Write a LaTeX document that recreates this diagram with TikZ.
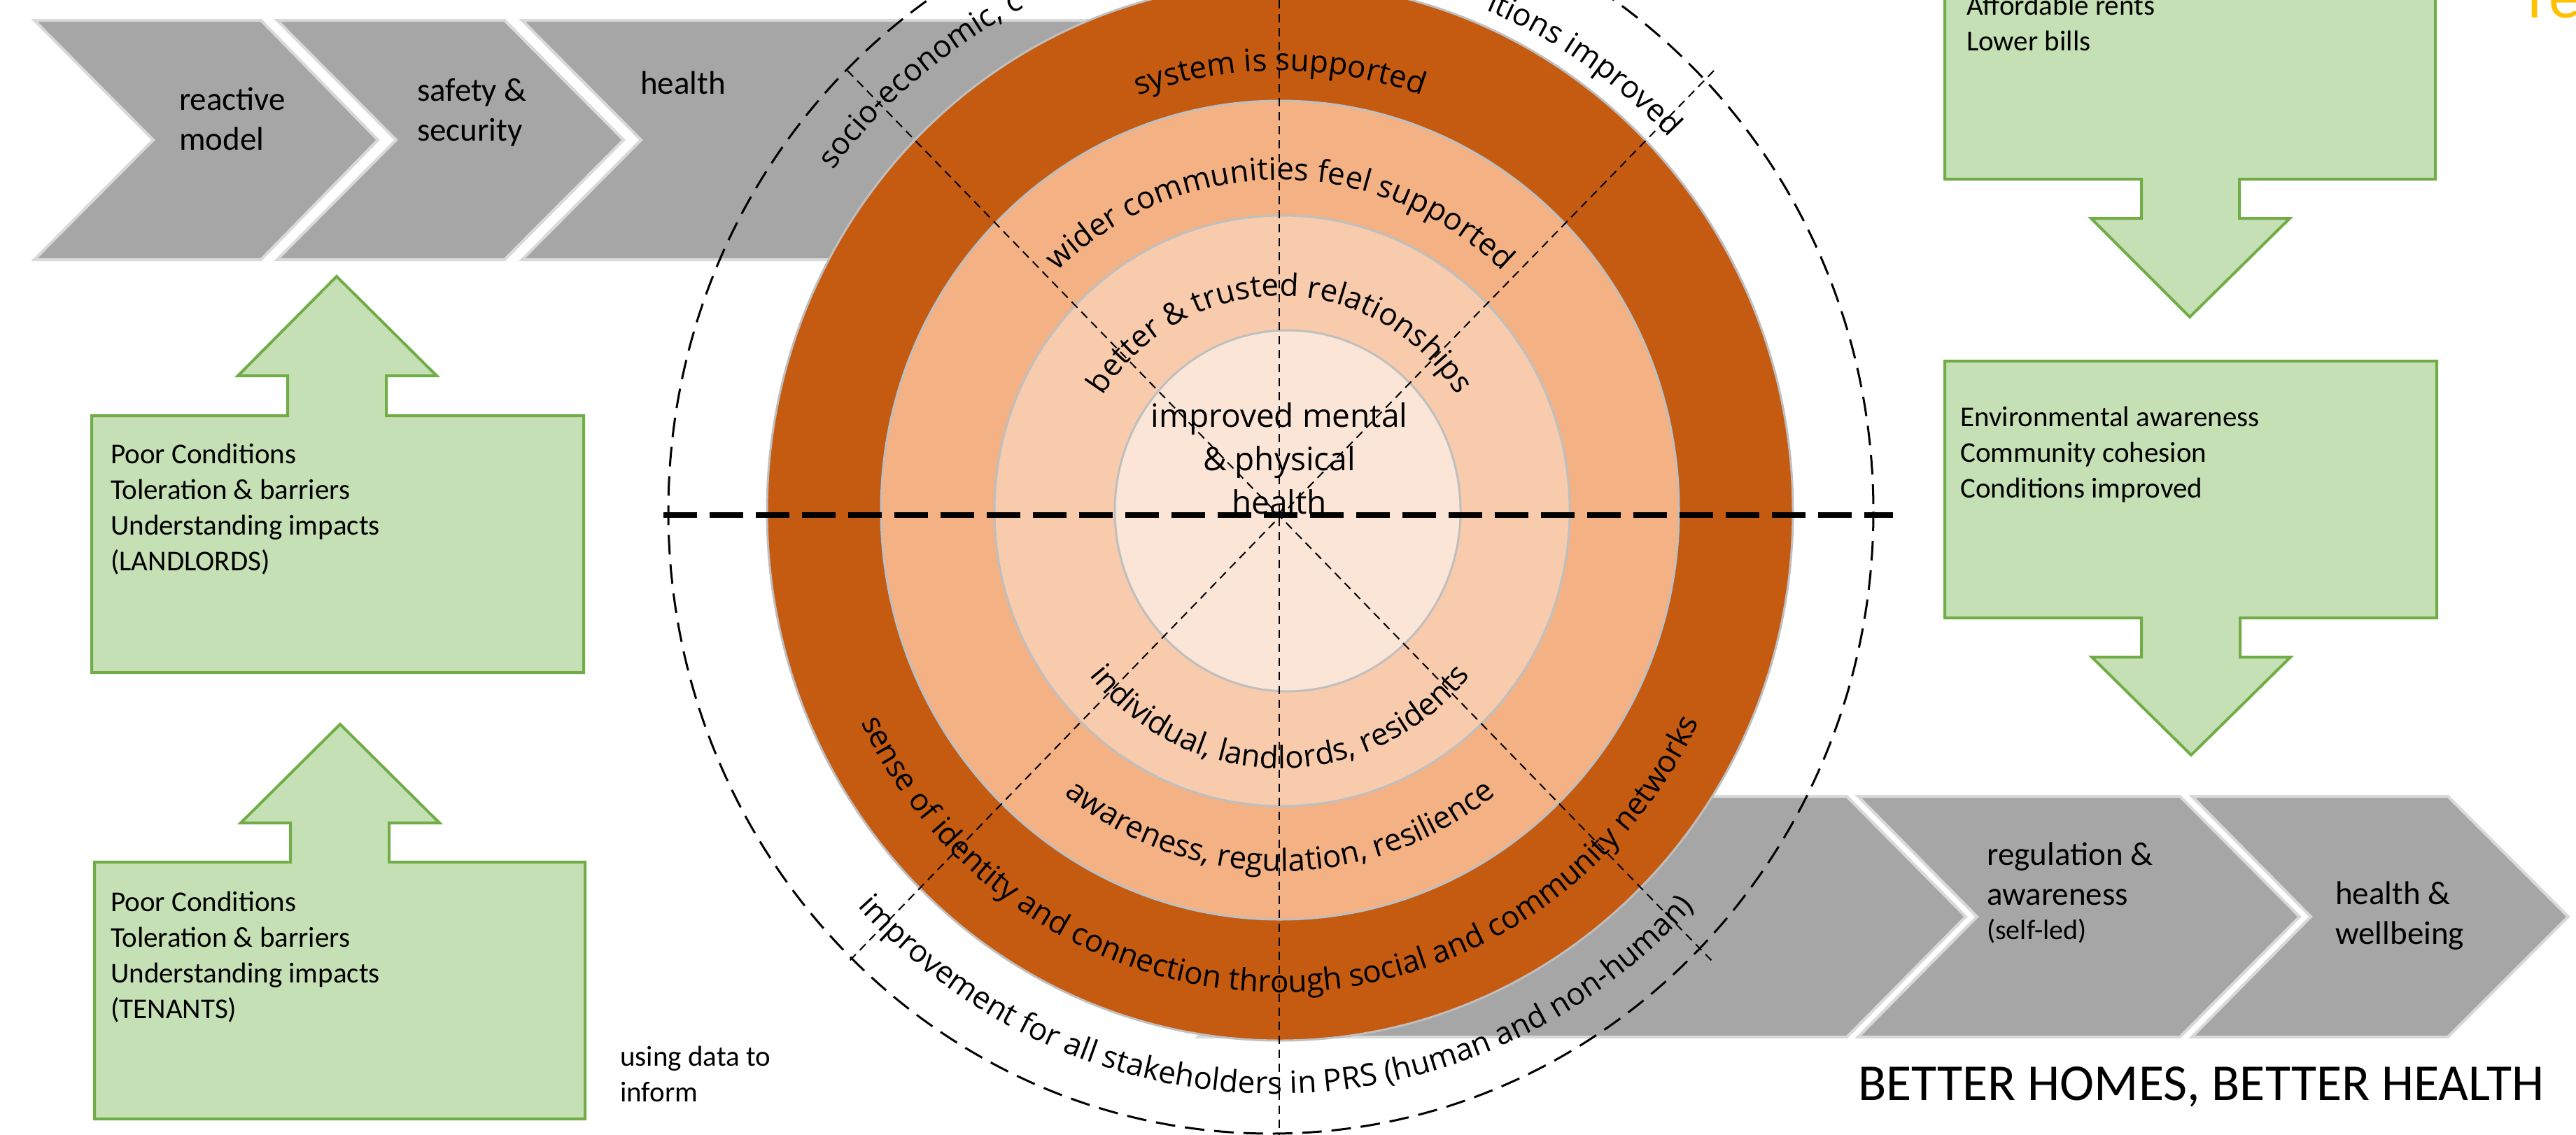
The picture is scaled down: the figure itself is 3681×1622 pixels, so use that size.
\documentclass[tikz,border=0pt]{standalone}
\usepackage{fontspec}
\setmainfont{Carlito}
\newfontfamily\osans{Open Sans}
\usetikzlibrary{decorations.text}
\definecolor{chev}{HTML}{A6A6A6}
\definecolor{chevline}{HTML}{D9D9D9}
\definecolor{ringA}{HTML}{C55A11}
\definecolor{ringB}{HTML}{F4B183}
\definecolor{ringC}{HTML}{F8CBAD}
\definecolor{ringD}{HTML}{FBE5D6}
\definecolor{ringline}{HTML}{BFBFBF}
\definecolor{gfill}{HTML}{C5E0B4}
\definecolor{gline}{HTML}{70AD47}
\definecolor{gold}{HTML}{FFC000}
\newcommand\ringfont{\osans\fontsize{44}{52}\selectfont}
\begin{document}
\begin{tikzpicture}[x=1pt,y=-1pt,
  chevron/.style={fill=chev, draw=chevline, line width=4pt, line join=miter},
  greenbox/.style={fill=gfill, draw=gline, line width=4pt},
  ring/.style={draw=ringline, line width=3pt},
  boxtext/.style={font=\fontsize{41}{51}\selectfont, align=left, anchor=west, inner sep=0pt},
  chevtext/.style={font=\fontsize{47}{57}\selectfont, align=left, anchor=west, inner sep=0pt},
  thindash/.style={line width=2pt, dash pattern=on 12pt off 8pt},
  arctext/.style={decorate, decoration={text along path, text align=center, text={|\ringfont|#1}}},
  arctextL/.style={decorate, decoration={text along path, text align=left, text={|\ringfont|#1}}},
  arctextR/.style={decorate, decoration={text along path, text align=right, text={|\ringfont|#1}}},
]
\useasboundingbox (0,0) rectangle (3681,1622);
\fill[white] (0,0) rectangle (3681,1622);

% top chevrons
\draw[chevron] (49,29) -- (373,29) -- (540,200) -- (373,371) -- (49,371) -- (219,200) -- cycle;
\draw[chevron] (396,29) -- (721,29) -- (891,200) -- (721,371) -- (396,371) -- (566,200) -- cycle;
\draw[chevron] (746,29) -- (1700,29) -- (1870,200) -- (1700,371) -- (746,371) -- (916,200) -- cycle;
% bottom chevrons
\draw[chevron] (1712,1138) -- (2639,1138) -- (2809,1310) -- (2639,1482) -- (1712,1482) -- (1882,1310) -- cycle;
\draw[chevron] (2655,1138) -- (3115,1138) -- (3286,1310) -- (3115,1482) -- (2655,1482) -- (2825,1310) -- cycle;
\draw[chevron] (3132,1138) -- (3498,1138) -- (3670,1310) -- (3498,1482) -- (3132,1482) -- (3302,1310) -- cycle;

% green boxes
\draw[greenbox] (131,961) -- (131,594) -- (411,594) -- (411,537) -- (340,537) -- (481,395) -- (624,537) -- (552,537) -- (552,594) -- (834,594) -- (834,961) -- cycle;
\draw[greenbox] (135,1599) -- (135,1232) -- (415,1232) -- (415,1176) -- (344,1176) -- (486,1035) -- (628,1176) -- (556,1176) -- (556,1232) -- (836,1232) -- (836,1599) -- cycle;
\draw[greenbox] (2779,-20) -- (2779,256) -- (3060,256) -- (3060,312) -- (2988,312) -- (3129,453) -- (3272,312) -- (3200,312) -- (3200,256) -- (3480,256) -- (3480,-20) -- cycle;
\draw[greenbox] (2779,516) -- (3482,516) -- (3482,883) -- (3201,883) -- (3201,939) -- (3273,939) -- (3131,1079) -- (2989,939) -- (3060,939) -- (3060,883) -- (2779,883) -- cycle;

% rings
\filldraw[ring, fill=ringA] (1829,731) ellipse [x radius=733, y radius=756];
\filldraw[ring, fill=ringB] (1829,729) ellipse [x radius=570, y radius=585];
\filldraw[ring, fill=ringC] (1832,730) ellipse [x radius=411, y radius=422];
\filldraw[ring, fill=ringD] (1840,730) ellipse [x radius=247, y radius=258];
\draw[line width=3pt, dash pattern=on 28pt off 14pt] (1816,731) ellipse [x radius=861, y radius=889];

% guide lines
\coordinate (C) at (1829,738);
\coordinate (d1) at (1211,101);
\coordinate (d2) at (2449,1376);
\coordinate (d3) at (2449,101);
\coordinate (d4) at (1211,1376);
\coordinate (v1) at (1828,0);
\coordinate (v2) at (1828,1622);
\coordinate (h1) at (948,736);
\coordinate (h2) at (2705,736);
\draw[thindash] (d1) -- (C) -- (d2);
\draw[thindash] (d3) -- (C) -- (d4);
\draw[thindash] (v1) -- (v2);
\draw[line width=8pt, dash pattern=on 48pt off 18pt] (h1) -- (h2);

% ring texts
\path[shift={(1829,731)}, arctext={system is supported}] (-175:612 and 630) arc[start angle=-175, end angle=-5, x radius=612, y radius=630];
\path[shift={(1829,731)}, arctext={wider communities feel supported}] (-175:461 and 474) arc[start angle=-175, end angle=-5, x radius=461, y radius=474];
\path[shift={(1829,731)}, arctext={better {\&} trusted relationships}] (-175:300 and 308) arc[start angle=-175, end angle=-5, x radius=300, y radius=308];
\path[shift={(1829,731)}, arctext={individual, landlords, residents}] (175:354 and 367) arc[start angle=175, end angle=5, x radius=354, y radius=367];
\path[shift={(1829,731)}, arctext={awareness, regulation, resilience}] (175:500 and 514) arc[start angle=175, end angle=5, x radius=500, y radius=514];
\path[shift={(1829,731)}, arctext={sense of identity and connection through social and community networks}] (175:666 and 687) arc[start angle=175, end angle=5, x radius=666, y radius=687];
\path[shift={(1823,731)}, arctext={improvement for all stakeholders in PRS (human and non-human)}] (175:814 and 832) arc[start angle=175, end angle=5, x radius=814, y radius=832];
\path[shift={(1829,731)}, arctextL={socio-economic, c}] (-143:800 and 810) arc[start angle=-143, end angle=-95, x radius=800, y radius=810];
\path[shift={(1829,731)}, arctextR={itions improved}] (-88:766 and 776) arc[start angle=-88, end angle=-43.5, x radius=766, y radius=776];

\node[font=\osans\fontsize{46}{62}\selectfont, align=center, inner sep=0pt] (ctr) at (1828,655) {improved mental\\\& physical\\health};

% chevron texts
\node[chevtext] (t1) at (256,170) {reactive\\model};
\node[chevtext] (t2) at (596,161) {safety \&\\security};
\node[chevtext] (t3) at (915,118) {health};
\node[chevtext] (t4) at (2839,1249) {regulation \&\\awareness};
\node[chevtext, font=\fontsize{40}{48}\selectfont] (t4b) at (2839,1331) {(self-led)};
\node[chevtext] (t5) at (3337,1309) {health \&\\wellbeing};

% box texts
\node[boxtext] (b1) at (158,728) {Poor Conditions\\Toleration \& barriers\\Understanding impacts\\(LANDLORDS)};
\node[boxtext] (b2) at (158,1368) {Poor Conditions\\Toleration \& barriers\\Understanding impacts\\(TENANTS)};
\node[boxtext] (b3) at (2810,33) {Affordable rents\\Lower bills};
\node[boxtext] (b4) at (2801,650) {Environmental awareness\\Community cohesion\\Conditions improved};
\node[boxtext] (b5) at (886,1535) {using data to\\inform};

\node[anchor=base west, inner sep=0pt, font=\fontsize{74}{86}\selectfont] (title) at (2655,1572) {BETTER HOMES, BETTER HEALTH};
\node[anchor=base west, inner sep=0pt, text=gold, font=\fontsize{90}{100}\selectfont] (yel) at (3612,25) {re};
\end{tikzpicture}
\end{document}
